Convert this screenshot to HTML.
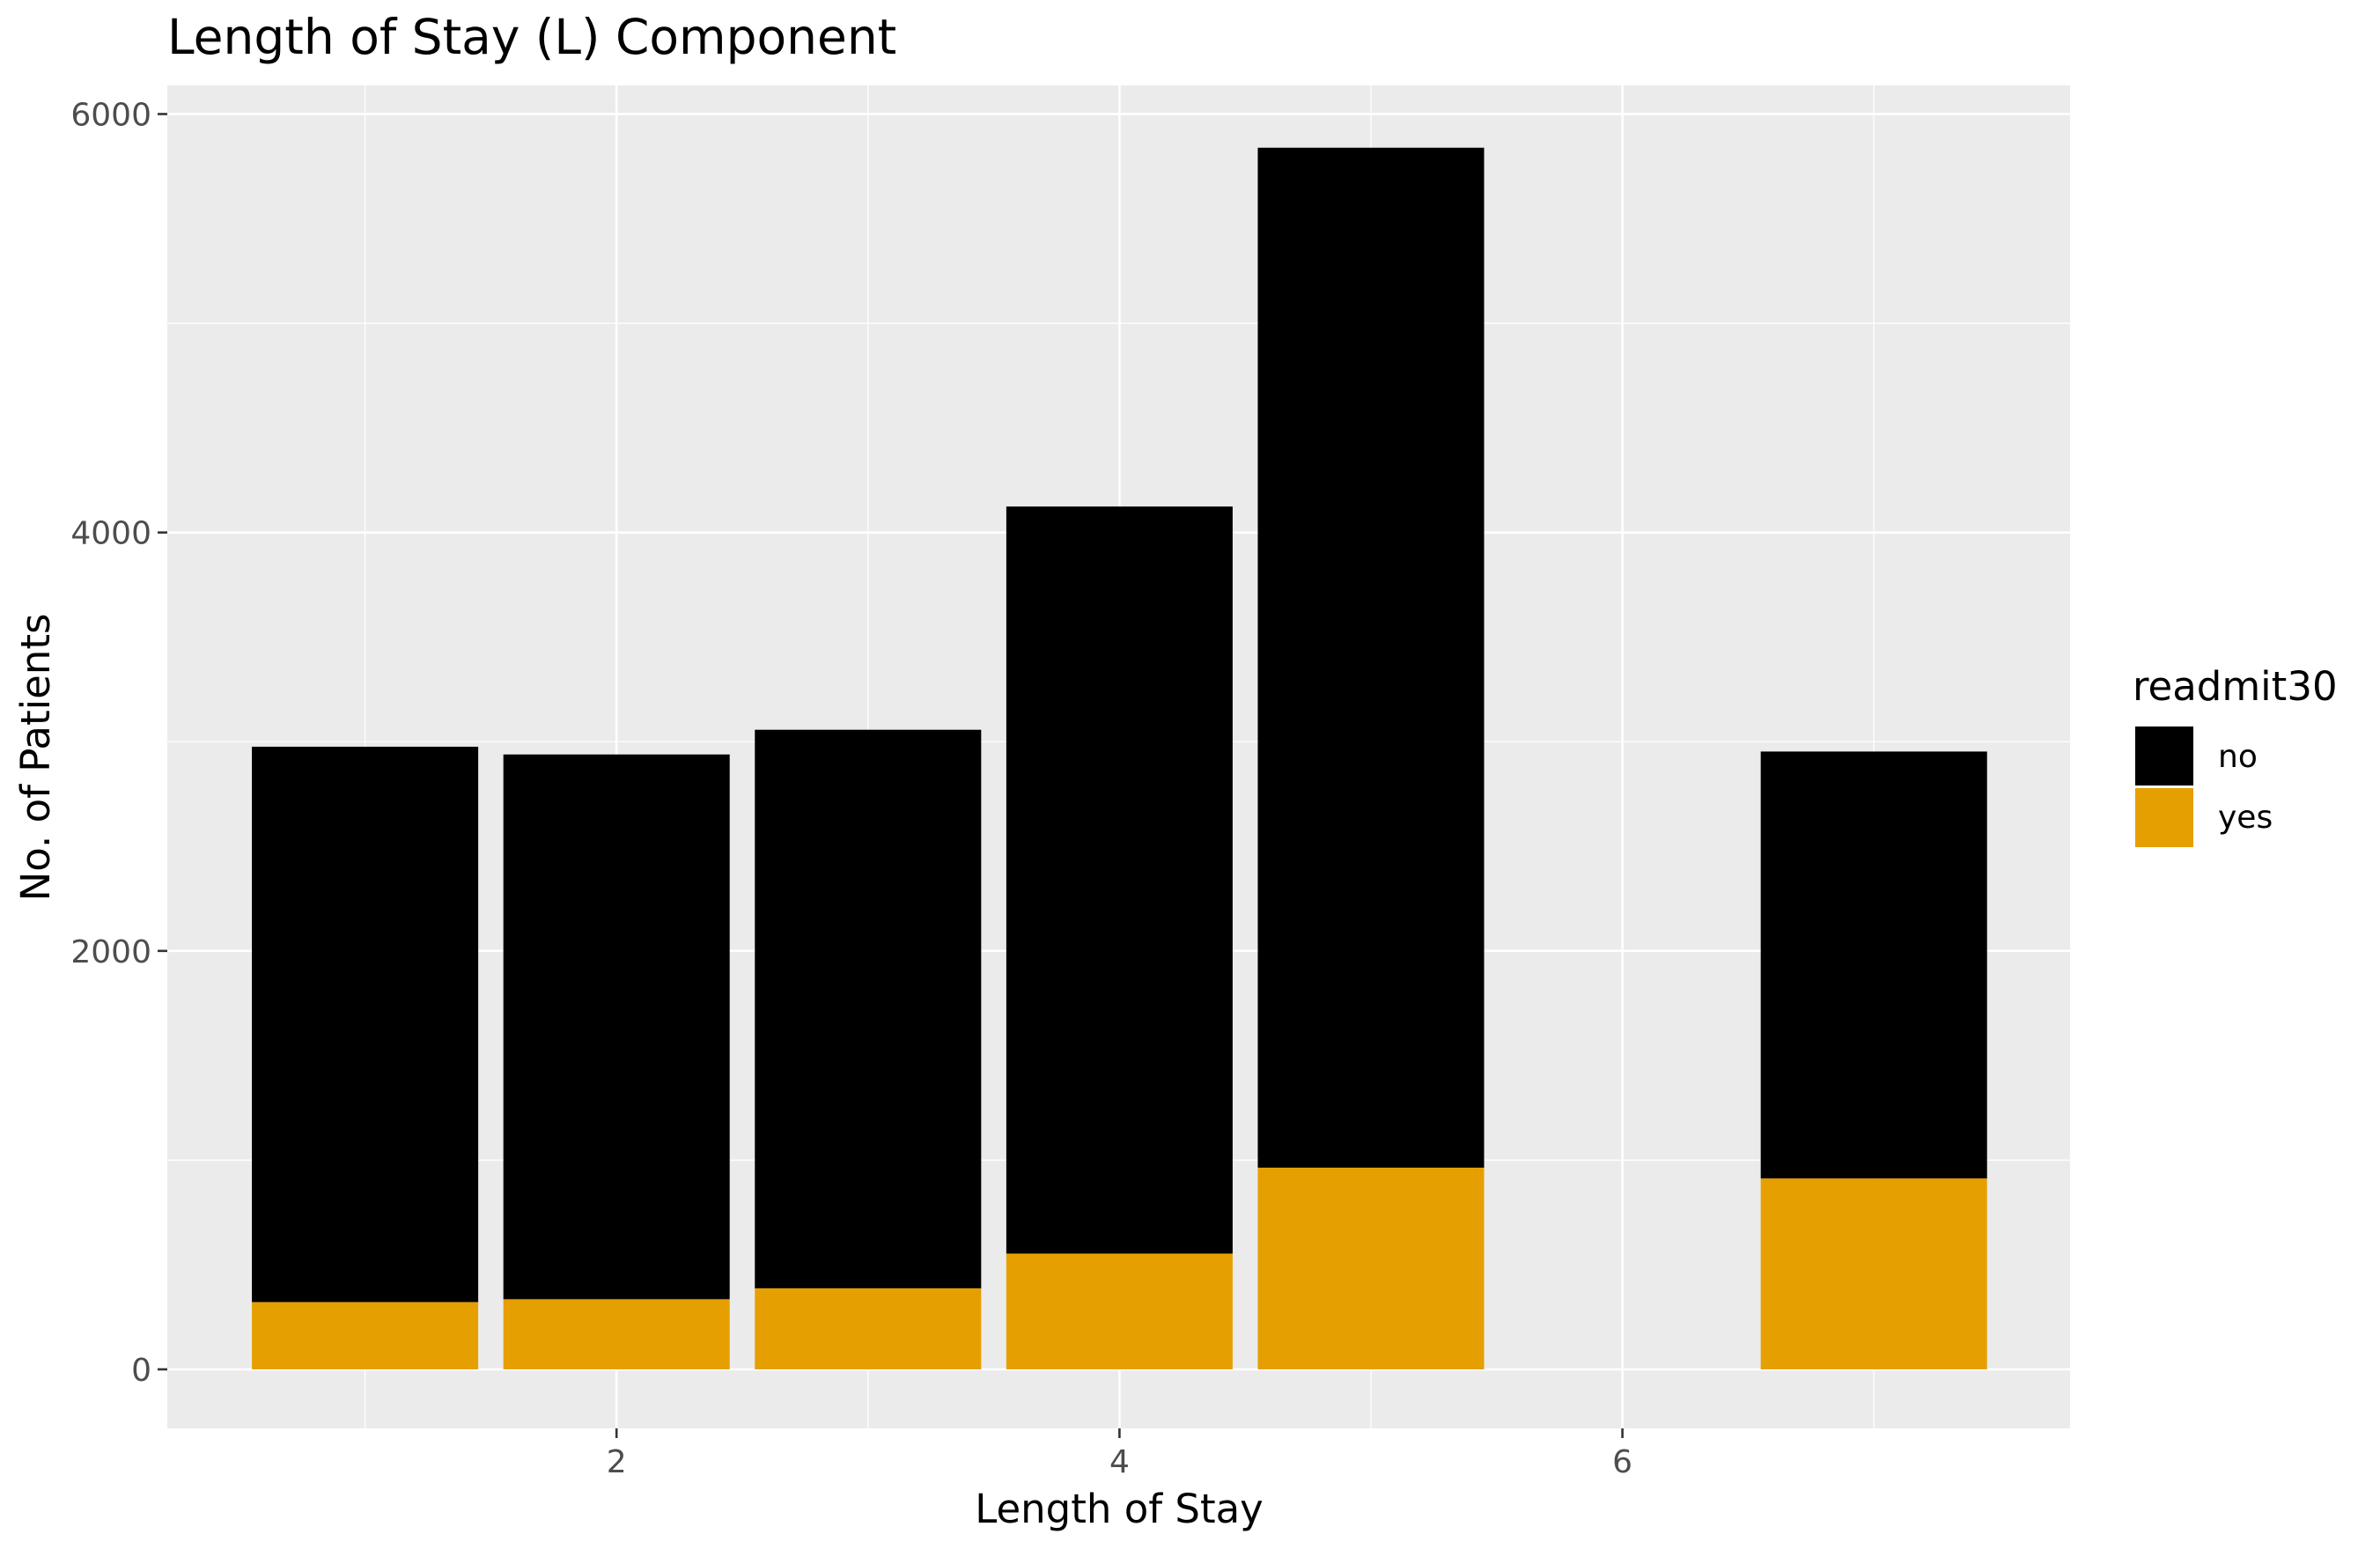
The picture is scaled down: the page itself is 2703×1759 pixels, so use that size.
<!DOCTYPE html>
<html><head><meta charset="utf-8"><style>
html,body{margin:0;padding:0;background:#fff}
svg{display:block;font-family:"DejaVu Sans","Liberation Sans",sans-serif}
</style></head><body>
<svg id="chart" width="2703" height="1759" viewBox="0 0 2703 1759" xmlns="http://www.w3.org/2000/svg">
<rect x="0" y="0" width="2703" height="1759" fill="#fff"/>
<rect x="190" y="97" width="2161" height="1525" fill="#EBEBEB"/>
<g id="grid"></g>
<g id="bars"></g>
<g id="axes"></g>
<text x="190" y="61" font-size="55" fill="#000">Length of Stay (L) Component</text>
<text x="1271" y="1729" font-size="45" text-anchor="middle" fill="#000">Length of Stay</text>
<text transform="translate(56,860) rotate(-90)" font-size="45" text-anchor="middle" fill="#000">No. of Patients</text>
<g>
<text x="2422" y="795" font-size="45" fill="#000">readmit30</text>
<rect x="2424" y="824" width="68" height="69" fill="#000" stroke="#fff" stroke-width="2"/>
<text x="2519" y="871" font-size="36" fill="#000">no</text>
<rect x="2424" y="894" width="68" height="69" fill="#E69F00" stroke="#fff" stroke-width="2"/>
<text x="2519" y="940" font-size="36" fill="#000">yes</text>
</g>
</svg>
<script>
const categories = [1, 2, 3, 4, 5, 7];
const yesValues = [321, 335, 387, 553, 964, 912];
const noValues = [2655, 2604, 2670, 3571, 4875, 2041];
const yTicks = [0, 2000, 4000, 6000];
const yMinor = [1000, 3000, 5000];
const xTicks = [2, 4, 6];
const xMinor = [1, 3, 5, 7];

const NS = 'http://www.w3.org/2000/svg';
const px0 = 190, px1 = 2351, py0 = 97, py1 = 1622;
const unit = 285.6;
function xs(v){ return 414.6 + (v - 1) * unit; }
function ys(v){ return 1555 - v * (1555 - 129.5) / 6000; }
function mk(tag, attrs, parent){ const e = document.createElementNS(NS, tag); for (const k in attrs) e.setAttribute(k, attrs[k]); parent.appendChild(e); return e; }
const grid = document.getElementById('grid');
const bars = document.getElementById('bars');
const axes = document.getElementById('axes');
yMinor.forEach(v => {
  const l = mk('line', {x1: px0, x2: px1, y1: ys(v), y2: ys(v), stroke: '#fff', 'stroke-width': 1.3}, grid);
  
  
});
xMinor.forEach(v => {
  const l = mk('line', {x1: xs(v), x2: xs(v), y1: py0, y2: py1, stroke: '#fff', 'stroke-width': 1.3}, grid);
  
  
});
yTicks.forEach(v => {
  const l = mk('line', {x1: px0, x2: px1, y1: ys(v), y2: ys(v), stroke: '#fff', 'stroke-width': 2.6}, grid);
  
  
  const t = mk('line', {x1: px0 - 11, x2: px0, y1: ys(v), y2: ys(v), stroke: '#333', 'stroke-width': 2.6}, axes);
  
  
  const tx = mk('text', {x: px0 - 18, y: ys(v) + 13, 'font-size': 36, fill: '#4D4D4D', 'text-anchor': 'end'}, axes);
  
  
  tx.textContent = v;
});
xTicks.forEach(v => {
  const l = mk('line', {x1: xs(v), x2: xs(v), y1: py0, y2: py1, stroke: '#fff', 'stroke-width': 2.6}, grid);
  
  
  const t = mk('line', {x1: xs(v), x2: xs(v), y1: py1, y2: py1 + 11, stroke: '#333', 'stroke-width': 2.6}, axes);
  
  
  const tx = mk('text', {x: xs(v), y: py1 + 50, 'font-size': 36, fill: '#4D4D4D', 'text-anchor': 'middle'}, axes);
  
  
  tx.textContent = v;
});
const bw = 0.9 * unit;
categories.forEach((c, i) => {
  const x = xs(c) - bw / 2;
  const y0 = ys(0), yY = ys(yesValues[i]), yN = ys(yesValues[i] + noValues[i]);
  const rn = mk('rect', {x: x, y: yN, width: bw, height: yY - yN, fill: '#000'}, bars);
  
  
  const ry = mk('rect', {x: x, y: yY, width: bw, height: y0 - yY, fill: '#E69F00'}, bars);
  
  
});
</script>
</body></html>
